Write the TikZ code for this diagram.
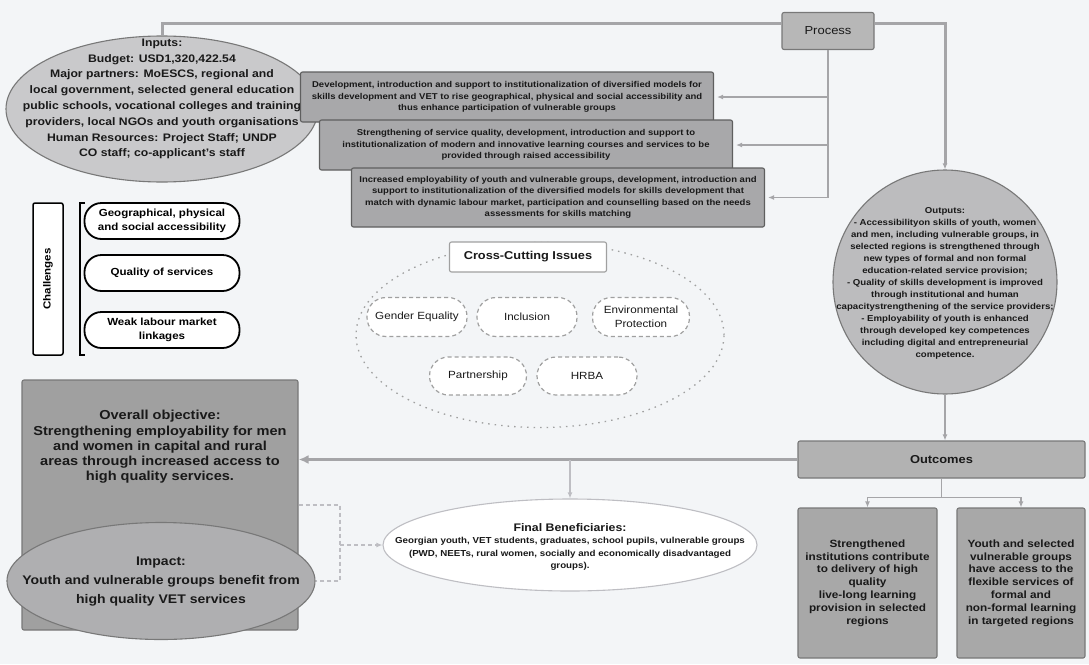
\documentclass[tikz,border=0pt]{standalone}
\usepackage{fontspec}
\setmainfont{Liberation Sans}[FakeStretch=1.12]
\usetikzlibrary{positioning,arrows.meta,shapes.geometric}

\definecolor{bgcol}{RGB}{243,245,247}
\definecolor{inpfill}{RGB}{201,201,203}
\definecolor{actfill}{RGB}{168,168,170}
\definecolor{actline}{RGB}{95,95,95}
\definecolor{procfill}{RGB}{183,183,183}
\definecolor{boxline}{RGB}{120,120,120}
\definecolor{outfill}{RGB}{188,188,190}
\definecolor{ocfill}{RGB}{178,178,178}
\definecolor{ocbfill}{RGB}{168,168,168}
\definecolor{objfill}{RGB}{160,160,160}
\definecolor{impfill}{RGB}{175,175,177}
\definecolor{lncol}{RGB}{165,165,168}
\definecolor{lightln}{RGB}{190,190,195}
\definecolor{cutline}{RGB}{160,160,160}
\definecolor{txtcol}{RGB}{25,25,25}

\begin{document}
\begin{tikzpicture}[x=1pt,y=-1pt,
    actbox/.style   = {draw=actline,fill=actfill,line width=1.1pt,rounded corners=2pt,inner sep=0pt,align=center,text=txtcol,font=\fontsize{8.5}{11.4}\selectfont\bfseries},
    chbox/.style    = {draw=black,fill=white,line width=1.8pt,rounded corners=17pt,minimum width=155,minimum height=36,inner sep=0pt,align=center,font=\fontsize{10.3}{14.5}\selectfont\bfseries},
    ccbox/.style    = {draw=cutline,dash pattern=on 4pt off 3pt,line width=1.2pt,fill=white,rounded corners=19pt,minimum height=39,inner sep=0pt,align=center,text=txtcol,font=\fontsize{10.4}{13.5}\selectfont},
    greybox/.style  = {draw=boxline,line width=1.1pt,rounded corners=2pt,inner sep=0pt,align=center,text=txtcol},
    blob/.style     = {ellipse,draw=boxline,line width=1.1pt,inner sep=0pt},
    txtnode/.style  = {align=center,inner sep=0pt,text=txtcol},
    mainline/.style = {draw=lncol,line width=3pt},
    thinline/.style = {draw=lncol,line width=1.3pt},
    >={Latex[length=6pt,width=5pt]}
  ]

  \useasboundingbox (0,0) rectangle (1089,664);
  \fill[bgcol] (0,0) rectangle (1089,664);

  % inputs and process
  \node[blob,fill=inpfill,minimum width=312,minimum height=146] (inp) at (162,109) {};
  \node[txtnode,font=\fontsize{10.9}{15.8}\selectfont\bfseries] (inptxt) at (162,99)
    {Inputs:\\Budget: USD1,320,422.54\\Major partners: MoESCS, regional and\\local government, selected general education\\public schools, vocational colleges and training\\providers, local NGOs and youth organisations\\Human Resources: Project Staff; UNDP\\CO staff; co-applicant's staff};
  \node[greybox,fill=procfill,minimum width=92,minimum height=37,font=\fontsize{11.6}{13}\selectfont] (proc) at (828,31) {Process};

  \node[actbox,minimum width=413,minimum height=50] (act1) at (507,97)
    {Development, introduction and support to institutionalization of diversified models for\\skills development and VET to rise geographical, physical and social accessibility and\\thus enhance participation of vulnerable groups};
  \node[actbox,minimum width=413,minimum height=50] (act2) at (526,145)
    {Strengthening of service quality, development, introduction and support to\\institutionalization of modern and innovative learning courses and services to be\\provided through raised accessibility};
  \node[actbox,minimum width=413,minimum height=59] (act3) at (558,197.5)
    {Increased employability of youth and vulnerable groups, development, introduction and\\support to institutionalization of the diversified models for skills development that\\match with dynamic labour market, participation and counselling based on the needs\\assessments for skills matching};

  \coordinate (inl) at (162,23);
  \coordinate (outr) at (945,23);
  \draw[mainline] (proc.west |- inl) -- (inl) -- (inp.north);
  \draw[thinline] (proc.south) -- (proc.south |- act3.east);
  \foreach \i in {1,2,3} { \draw[thinline,->,shorten >=3pt] (proc.south |- act\i.east) -- (act\i.east); }

  % challenges
  \node[draw=black,fill=white,line width=1.5pt,rounded corners=2pt,rotate=90,minimum width=152,minimum height=30,inner sep=0pt,font=\fontsize{10.3}{12}\selectfont\bfseries] (chl) at (48,279) {Challenges};
  \draw[line width=1.3pt] (85,203) -- (80,203) -- (80,355) -- (85,355);
  \foreach \i/\yy/\txt in {1/221/{Geographical, physical\\and social accessibility}, 2/273/{Quality of services}, 3/330/{Weak labour market\\linkages}} {
    \node[chbox] (ch\i) at (162,\yy) {\txt};
  }

  % cross-cutting issues
  \node[ellipse,draw=cutline,line width=1.3pt,dash pattern=on 1.5pt off 5pt,minimum width=368,minimum height=185] (cci) at (540,335) {};
  \node[greybox,draw=cutline,fill=white,minimum width=157,minimum height=30,font=\fontsize{11.4}{13}\selectfont\bfseries] (ccit) at (528,257) {Cross-Cutting Issues};
  \node[ccbox,minimum width=100] (gen) at (417,317) {Gender Equality};
  \node[ccbox,minimum width=100] (inc) at (527,317) {Inclusion};
  \node[ccbox,minimum width=97]  (env) at (641,317) {Environmental\\Protection};
  \node[ccbox,minimum width=97,minimum height=38]  (par) at (478,376) {Partnership};
  \node[ccbox,minimum width=100,minimum height=38] (hrb) at (587,376) {HRBA};

  % outputs and outcomes
  \node[circle,draw=boxline,fill=outfill,line width=1.1pt,minimum size=224,inner sep=0pt] (outp) at (945,282) {};
  \node[txtnode,font=\fontsize{8.6}{12}\selectfont\bfseries] (outptxt) at (945,283)
    {Outputs:\\- Accessibilityon skills of youth, women\\and men, including vulnerable groups, in\\selected regions is strengthened through\\new types of formal and non formal\\education-related service provision;\\- Quality of skills development is improved\\through institutional and human\\capacitystrengthening of the service providers;\\- Employability of youth is enhanced\\through developed key competences\\including digital and entrepreneurial\\competence.};
  \draw[mainline,->] (proc.east |- outr) -- (outr) -- (outp.north);

  \node[greybox,fill=ocfill,minimum width=287,minimum height=37,font=\fontsize{11.5}{13}\selectfont\bfseries] (outc) at (941.5,459.5) {Outcomes};
  \draw[mainline,line width=2.5pt,->] (outp.south) -- (outp.south |- outc.north);

  \node[greybox,fill=ocbfill,minimum width=139,minimum height=150,font=\fontsize{10.5}{12.8}\selectfont\bfseries] (oc1) at (867.5,583)
    {Strengthened\\institutions contribute\\to delivery of high\\quality\\live-long learning\\provision in selected\\regions};
  \node[greybox,fill=ocbfill,minimum width=128,minimum height=150,font=\fontsize{10.5}{12.8}\selectfont\bfseries] (oc2) at (1021,583)
    {Youth and selected\\vulnerable groups\\have access to the\\flexible services of\\formal and\\non-formal learning\\in targeted regions};
  \draw[thinline] (outc.south) -- ++(0,19) coordinate (ocs);
  \draw[thinline,->] (ocs) -| (oc1.north);
  \draw[thinline,->] (ocs) -| (oc2.north);

  % objective, impact, beneficiaries
  \node[greybox,fill=objfill,minimum width=276,minimum height=250] (obj) at (160,505) {};
  \node[txtnode,font=\fontsize{13}{15.2}\selectfont\bfseries] (objtxt) at (160,447)
    {Overall objective:\\Strengthening employability for men\\and women in capital and rural\\areas through increased access to\\high quality services.};
  \node[blob,fill=impfill,minimum width=308,minimum height=117] (imp) at (161,581) {};
  \node[txtnode,font=\fontsize{12.5}{19}\selectfont\bfseries] (imptxt) at (161,582)
    {Impact:\\Youth and vulnerable groups benefit from\\high quality VET services};

  \draw[mainline,line width=3.5pt,-{Latex[length=10pt,width=9pt]}] (outc.west) -- (obj.east |- outc.west);

  \node[blob,draw=lightln,fill=white,minimum width=374,minimum height=92] (ben) at (570,545) {};
  \node[txtnode,font=\fontsize{8.7}{12.5}\selectfont\bfseries] (bentxt) at (570,547)
    {{\fontsize{11}{13}\selectfont Final Beneficiaries:}\\Georgian youth, VET students, graduates, school pupils, vulnerable groups\\(PWD, NEETs, rural women, socially and economically disadvantaged\\groups).};
  \draw[draw=lightln,line width=1.2pt,->] (ben.north |- outc.west) -- (ben.north);

  \coordinate (brt) at (340,505);
  \coordinate (brb) at (340,581);
  \draw[draw=lightln,line width=1.2pt,dash pattern=on 4pt off 3pt] (obj.east |- brt) -- (brt) -- (brb) -- (imp.east);
  \draw[draw=lightln,line width=1.2pt,dash pattern=on 4pt off 3pt,->] (brt |- ben.west) -- (ben.west);

\end{tikzpicture}
\end{document}
